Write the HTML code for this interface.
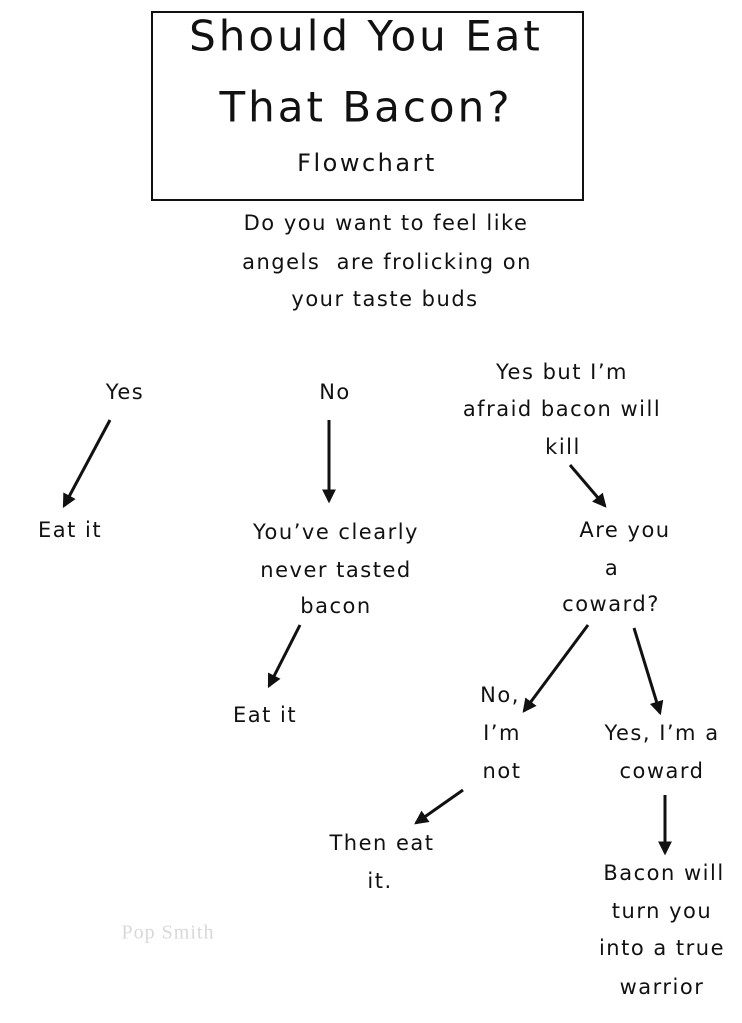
<!DOCTYPE html>
<html><head><meta charset="utf-8"><style>
html,body{margin:0;padding:0;background:#fff;}
body{width:742px;height:1023px;position:relative;overflow:hidden;font-family:"DejaVu Sans","Liberation Sans",sans-serif;color:#111;}
.t{position:absolute;transform:translate(-50%,-50%);white-space:nowrap;font-size:21px;letter-spacing:1.5px;}
.box{position:absolute;left:151px;top:11px;width:429px;height:186px;border:2px solid #111;}
</style></head><body>
<div class="box"></div>
<div class="t" style="left:366px;top:36px;font-size:42px;letter-spacing:3px">Should You Eat</div>
<div class="t" style="left:366px;top:107px;font-size:42px;letter-spacing:3px">That Bacon?</div>
<div class="t" style="left:367px;top:163px;font-size:24px;letter-spacing:2.5px">Flowchart</div>

<div class="t" style="left:386px;top:223px">Do you want to feel like</div>
<div class="t" style="left:387px;top:262px">angels&nbsp; are frolicking on</div>
<div class="t" style="left:385px;top:299px">your taste buds</div>

<div class="t" style="left:125px;top:392px">Yes</div>
<div class="t" style="left:335px;top:392px">No</div>
<div class="t" style="left:562px;top:372px">Yes but I’m</div>
<div class="t" style="left:562px;top:409px">afraid bacon will</div>
<div class="t" style="left:563px;top:447px">kill</div>

<div class="t" style="left:70px;top:530px">Eat it</div>
<div class="t" style="left:336px;top:532px">You’ve clearly</div>
<div class="t" style="left:336px;top:570px">never tasted</div>
<div class="t" style="left:336px;top:606px">bacon</div>
<div class="t" style="left:625px;top:530px">Are you</div>
<div class="t" style="left:612px;top:568px">a</div>
<div class="t" style="left:611px;top:604px">coward?</div>

<div class="t" style="left:265px;top:715px">Eat it</div>
<div class="t" style="left:500px;top:695px">No,</div>
<div class="t" style="left:502px;top:733px">I’m</div>
<div class="t" style="left:502px;top:771px">not</div>
<div class="t" style="left:662px;top:733px">Yes, I’m a</div>
<div class="t" style="left:662px;top:771px">coward</div>

<div class="t" style="left:382px;top:843px">Then eat</div>
<div class="t" style="left:380px;top:881px">it.</div>
<div class="t" style="left:664px;top:873px">Bacon will</div>
<div class="t" style="left:662px;top:911px">turn you</div>
<div class="t" style="left:662px;top:948px">into a true</div>
<div class="t" style="left:662px;top:987px">warrior</div>

<div class="t" style="left:168px;top:933px;color:#d8d8d8;font-size:20px;letter-spacing:1px;font-family:'Liberation Serif',serif">Pop Smith</div>

<svg width="742" height="1023" style="position:absolute;left:0;top:0">
<defs><marker id="a" markerWidth="14" markerHeight="14" refX="10" refY="6" orient="auto" markerUnits="userSpaceOnUse" viewBox="0 0 12 12"><path d="M0,0 L12,6 L0,12 z" fill="#111"/></marker></defs>
<g stroke="#111" stroke-width="3" fill="none">
<line x1="110" y1="420" x2="64" y2="506" marker-end="url(#a)"/>
<line x1="329" y1="420" x2="329" y2="501" marker-end="url(#a)"/>
<line x1="570" y1="465" x2="605" y2="506" marker-end="url(#a)"/>
<line x1="300" y1="625" x2="269" y2="686" marker-end="url(#a)"/>
<line x1="588" y1="625" x2="524" y2="711" marker-end="url(#a)"/>
<line x1="634" y1="628" x2="660" y2="713" marker-end="url(#a)"/>
<line x1="463" y1="790" x2="416" y2="823" marker-end="url(#a)"/>
<line x1="665" y1="795" x2="665" y2="853" marker-end="url(#a)"/>
</g></svg>
</body></html>
